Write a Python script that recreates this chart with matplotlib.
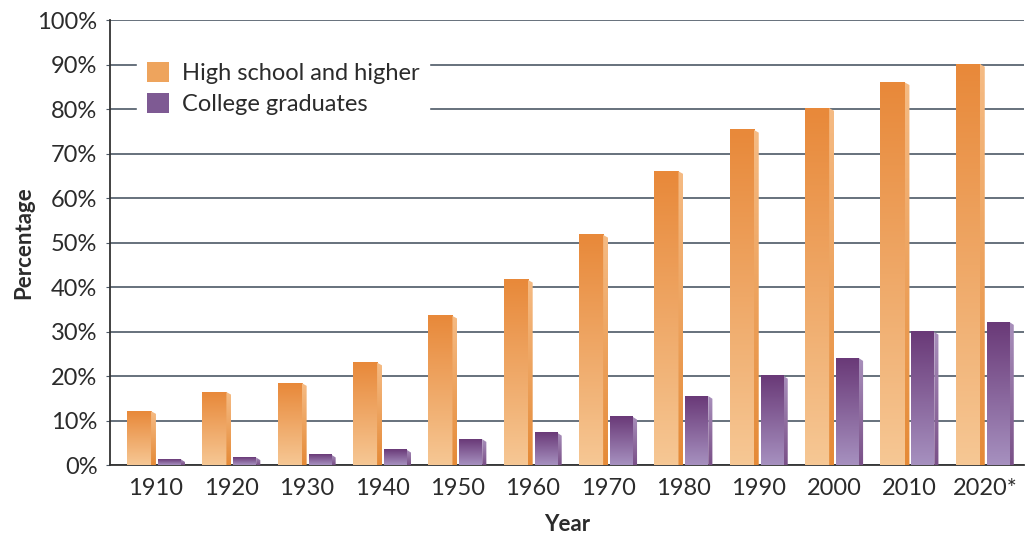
import numpy as np
import matplotlib.pyplot as plt
from matplotlib.colors import LinearSegmentedColormap
from matplotlib.patches import Polygon, Patch
from matplotlib.ticker import FuncFormatter

plt.rcParams['font.family'] = ['Lato', 'DejaVu Sans']

# data
years = ['1910', '1920', '1930', '1940', '1950', '1960',
         '1970', '1980', '1990', '2000', '2010', '2020*']
high_school = [12.1, 16.4, 18.4, 23.0, 33.5, 41.6, 51.7, 66.0, 75.3, 80.2, 86.0, 90.1]
college = [1.3, 1.7, 2.3, 3.4, 5.8, 7.2, 10.8, 15.5, 20.0, 24.0, 29.9, 32.1]

grid_col = '#4d5966'
text_col = '#2b2b2b'

# front face: bottom colour -> top colour, side face reversed-ish
hs_front = LinearSegmentedColormap.from_list('hsf', ['#f6c794', '#e8893a'])
hs_side = LinearSegmentedColormap.from_list('hss', ['#e58a37', '#f5bb84'])
col_front = LinearSegmentedColormap.from_list('cf', ['#a690bf', '#6a3a78'])
col_side = LinearSegmentedColormap.from_list('cs', ['#7a5088', '#a88fbb'])

fig = plt.figure(figsize=(10.26, 5.35), dpi=100)
ax = fig.add_axes([0.1072, 0.1308, 0.8908, 0.8318])

x = np.arange(len(years))
grad = np.linspace(0, 1, 64).reshape(-1, 1)


def draw_bar(x0, w, h, side_w, front_cmap, side_cmap):
    # front face with vertical gradient
    ax.imshow(grad, cmap=front_cmap, extent=[x0, x0 + w, 0, h], origin='lower',
              aspect='auto', zorder=3, interpolation='bilinear')
    # side face (thin 3D strip on the right)
    drop = 0.6
    sx = [x0 + w, x0 + w + side_w]
    im = ax.imshow(grad, cmap=side_cmap, extent=[sx[0], sx[1], 0, h], origin='lower',
                   aspect='auto', zorder=3, interpolation='bilinear')
    poly = Polygon([(sx[0], 0), (sx[1], 0), (sx[1], h - drop), (sx[0], h)],
                   closed=True, transform=ax.transData, facecolor='none', edgecolor='none')
    ax.add_patch(poly)
    im.set_clip_path(poly)


for i in range(len(years)):
    draw_bar(x[i] - 0.385, 0.32, high_school[i], 0.065, hs_front, hs_side)
    draw_bar(x[i] + 0.025, 0.305, college[i], 0.055, col_front, col_side)

ax.set_xlim(-0.61, 11.52)
ax.set_ylim(0, 100)
ax.set_yticks(np.arange(0, 101, 10))
ax.yaxis.set_major_formatter(FuncFormatter(lambda v, p: f'{int(v)}%'))
ax.set_xticks(x)
ax.set_xticklabels(years)

ax.grid(axis='y', color=grid_col, linewidth=1.2, zorder=0)
ax.set_axisbelow(True)
ax.tick_params(axis='y', length=3, color=grid_col, labelsize=17, labelcolor=text_col, pad=6)
ax.tick_params(axis='x', length=0, labelsize=17, labelcolor=text_col, pad=9)

for s in ['top', 'right']:
    ax.spines[s].set_visible(False)
for s in ['left', 'bottom']:
    ax.spines[s].set_color('#333333')
    ax.spines[s].set_linewidth(1.3)

ax.set_xlabel('Year', fontsize=16, fontweight='bold', color=text_col, labelpad=11)
ax.set_ylabel('Percentage', fontsize=16, fontweight='bold', color=text_col, labelpad=2)

handles = [Patch(facecolor='#eea45d', label='High school and higher'),
           Patch(facecolor='#7e5a93', label='College graduates')]
leg = ax.legend(handles=handles, loc='upper left', bbox_to_anchor=(0.0295, 0.928),
                fontsize=17, frameon=True, facecolor='white', edgecolor='white',
                framealpha=1, fancybox=False, handlelength=0.93, handleheight=0.93,
                handletextpad=0.55, labelspacing=0.36, borderpad=0.42, borderaxespad=0)
leg.set_zorder(5)
for t in leg.get_texts():
    t.set_color(text_col)

fig.savefig('out.png', dpi=100)
